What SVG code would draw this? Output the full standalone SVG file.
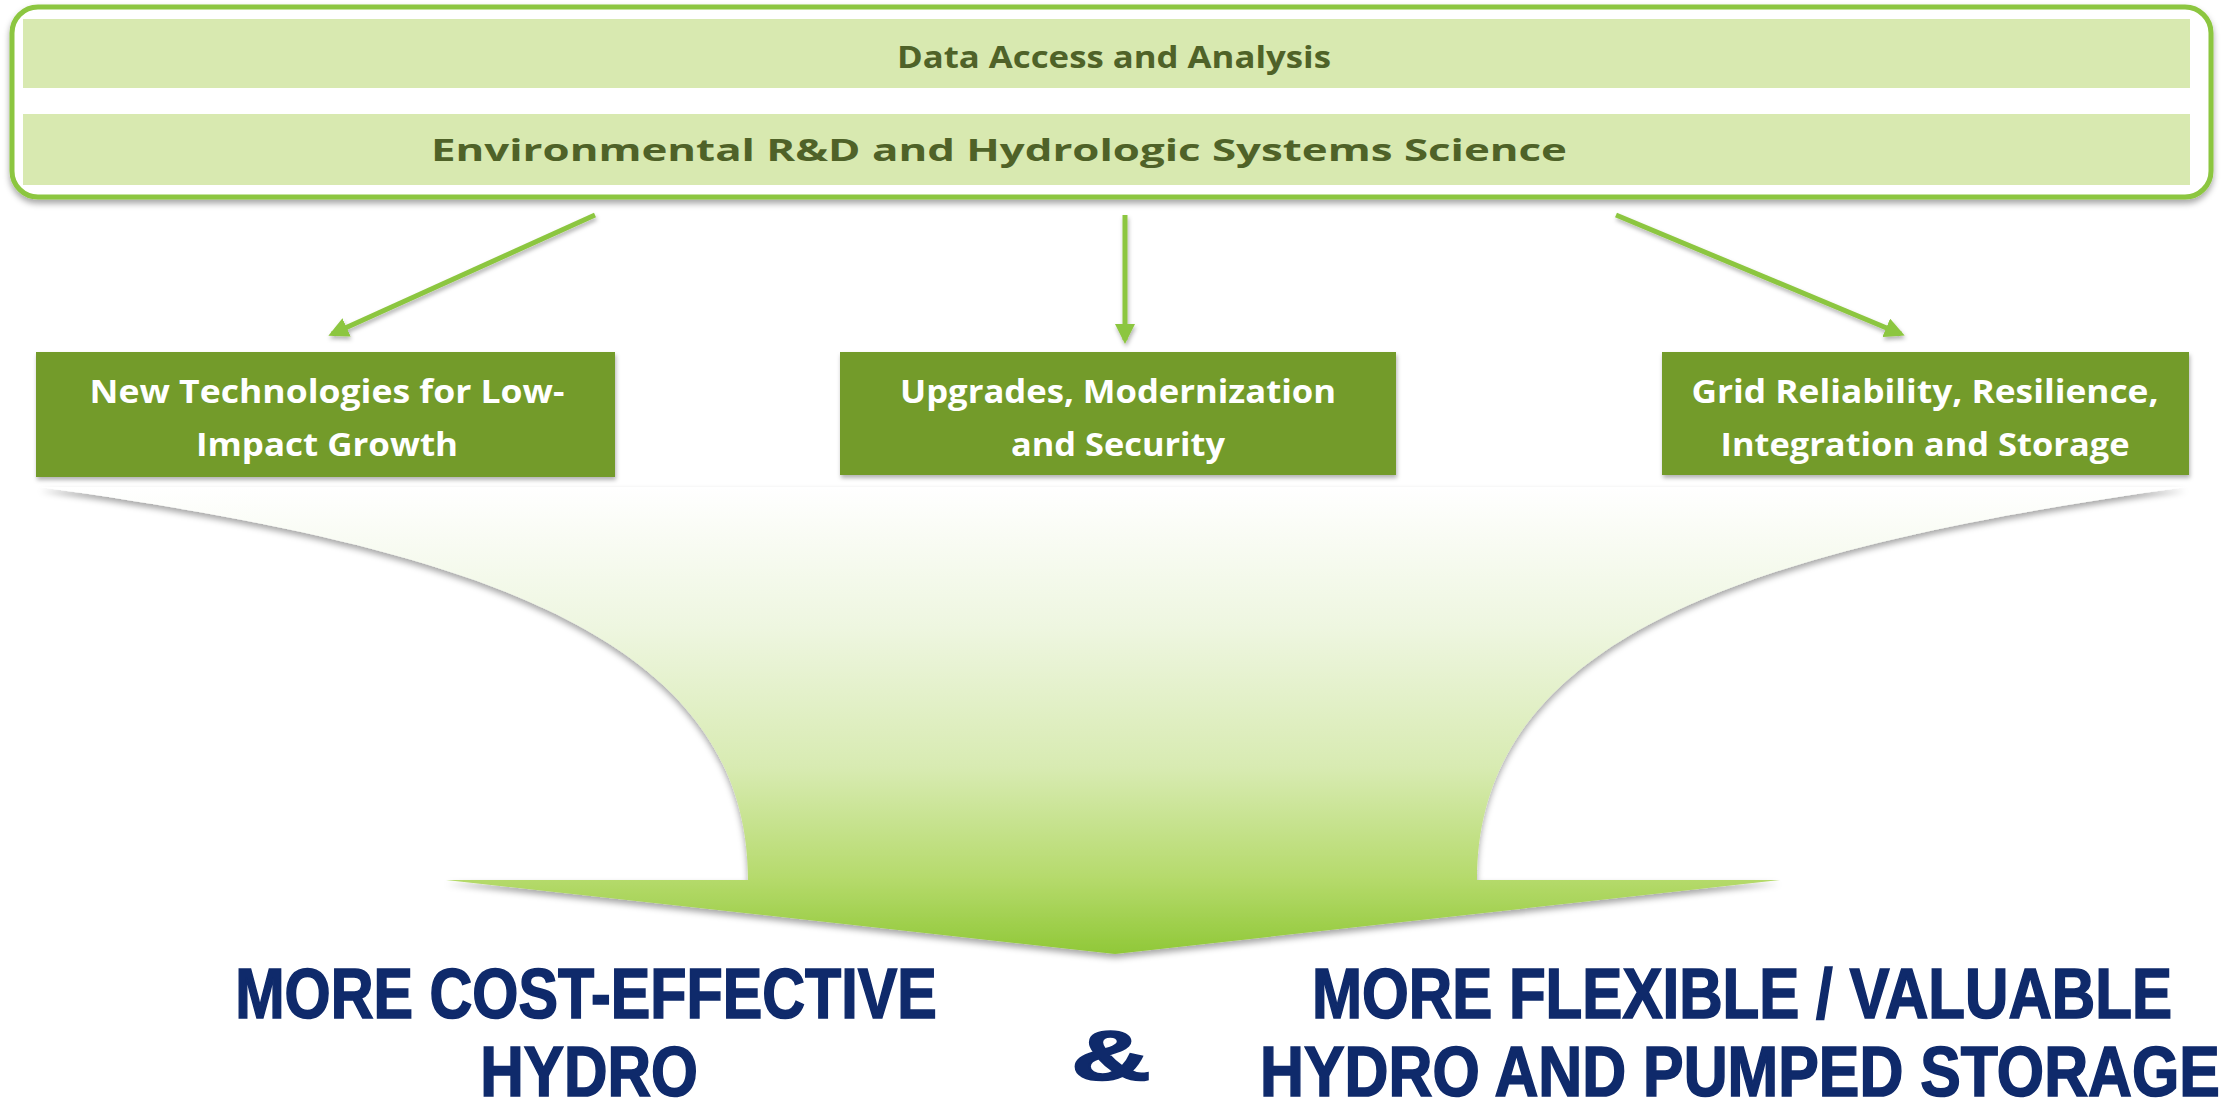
<svg xmlns="http://www.w3.org/2000/svg" width="2233" height="1111" viewBox="0 0 2233 1111">
<style>
.bar{fill:#d8e9b0}
.bartxt{font-family:"Open Sans","Liberation Sans",sans-serif;font-weight:bold;font-size:31px;fill:#4f6228;text-anchor:middle}
.node{fill:#739b2a}
.ntxt{font-family:"Open Sans","Liberation Sans",sans-serif;font-weight:bold;font-size:33px;fill:#ffffff;text-anchor:middle}
.conn{stroke:#8cc63f;stroke-width:5;fill:none;marker-end:url(#ah)}
.out{font-family:"Liberation Sans","Arial",sans-serif;font-weight:bold;font-size:70px;fill:#0f2a6b;stroke:#0f2a6b;stroke-width:1.6;text-anchor:middle}
</style>
<defs>
<filter id="sh" x="-5%" y="-20%" width="110%" height="150%">
<feDropShadow dx="0" dy="4" stdDeviation="3" flood-color="#000" flood-opacity="0.35"/>
</filter>
<filter id="shs" filterUnits="userSpaceOnUse" x="0" y="0" width="2233" height="1111">
<feDropShadow dx="1" dy="3" stdDeviation="2" flood-color="#000" flood-opacity="0.3"/>
</filter>
<marker id="ah" viewBox="0 0 10 10" refX="8" refY="5" markerWidth="4" markerHeight="4" orient="auto">
<path d="M0,0 L10,5 L0,10 Z" fill="#8cc63f"/>
</marker>
<linearGradient id="fg" x1="0" y1="487" x2="0" y2="954" gradientUnits="userSpaceOnUse">
<stop offset="0" stop-color="#ffffff"/>
<stop offset="0.3" stop-color="#eef6e0"/>
<stop offset="0.6" stop-color="#d8ebb2"/>
<stop offset="0.84" stop-color="#b5da6b"/>
<stop offset="1" stop-color="#90c838"/>
</linearGradient>
</defs>

<g id="funnel">
<path d="M40 487 L2186 487 C1766 546 1477 630 1477 880 L1780 880 L1115 954 L446 880 L748 880 C748 630 460 546 40 487 Z" fill="url(#fg)" filter="url(#sh)"/>
</g>

<g id="top-box">
<rect x="12" y="7" width="2199" height="190" rx="26" fill="#ffffff" stroke="#8cc63f" stroke-width="5" filter="url(#sh)"/>
<g id="bar-data">
<rect class="bar" x="23" y="19" width="2167" height="69"/>
<text class="bartxt" x="1114" y="68" textLength="434" lengthAdjust="spacingAndGlyphs">Data Access and Analysis</text>
</g>
<g id="bar-env">
<rect class="bar" x="23" y="114" width="2167" height="71"/>
<text class="bartxt" x="999" y="161" textLength="1136" lengthAdjust="spacingAndGlyphs">Environmental  R&amp;D  and  Hydrologic  Systems  Science</text>
</g>
</g>

<g id="connectors">
<path class="conn" d="M595 215 L332 334" filter="url(#shs)"/>
<path class="conn" d="M1125 215 L1125 340" filter="url(#shs)"/>
<path class="conn" d="M1616 215 L1901 334" filter="url(#shs)"/>
</g>

<g id="node-new-tech">
<rect class="node" x="36" y="352" width="579" height="125" filter="url(#shs)"/>
<text class="ntxt" x="327" y="403" textLength="475" lengthAdjust="spacingAndGlyphs">New Technologies  for  Low-</text>
<text class="ntxt" x="327" y="456" textLength="262" lengthAdjust="spacingAndGlyphs">Impact Growth</text>
</g>
<g id="node-upgrades">
<rect class="node" x="840" y="352" width="556" height="123" filter="url(#shs)"/>
<text class="ntxt" x="1118" y="403" textLength="436" lengthAdjust="spacingAndGlyphs">Upgrades, Modernization</text>
<text class="ntxt" x="1118" y="456" textLength="214" lengthAdjust="spacingAndGlyphs">and Security</text>
</g>
<g id="node-grid">
<rect class="node" x="1662" y="352" width="527" height="123" filter="url(#shs)"/>
<text class="ntxt" x="1925" y="403" textLength="467" lengthAdjust="spacingAndGlyphs">Grid  Reliability,  Resilience,</text>
<text class="ntxt" x="1925" y="456" textLength="409" lengthAdjust="spacingAndGlyphs">Integration  and  Storage</text>
</g>

<g id="outcomes">
<text class="out" transform="translate(586,1018) scale(0.86,1)" x="0" y="0" textLength="816" lengthAdjust="spacingAndGlyphs">MORE COST-EFFECTIVE</text>
<text class="out" transform="translate(589,1096) scale(0.86,1)" x="0" y="0" textLength="253" lengthAdjust="spacingAndGlyphs">HYDRO</text>
<text class="out" transform="translate(1111,1080) scale(0.86,1)" x="0" y="0" font-size="100" textLength="93" lengthAdjust="spacingAndGlyphs">&amp;</text>
<text class="out" transform="translate(1742,1018) scale(0.86,1)" x="0" y="0" textLength="1000" lengthAdjust="spacingAndGlyphs">MORE FLEXIBLE / VALUABLE</text>
<text class="out" transform="translate(1740,1096) scale(0.86,1)" x="0" y="0" textLength="1116" lengthAdjust="spacingAndGlyphs">HYDRO AND PUMPED STORAGE</text>
</g>
</svg>
